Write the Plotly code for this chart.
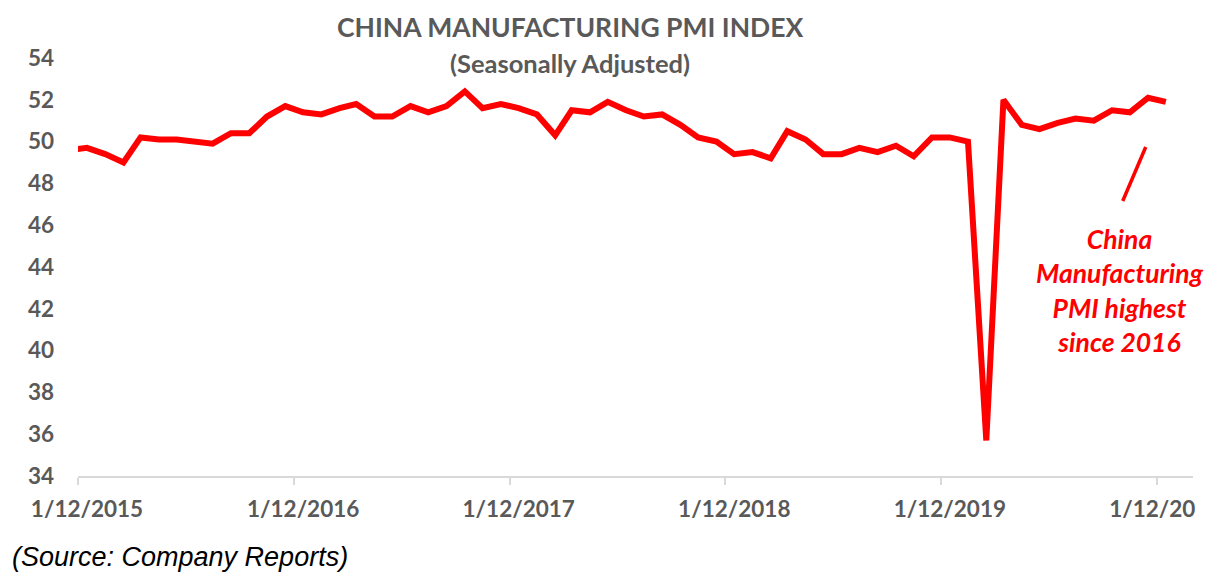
import plotly.graph_objects as go

# monthly China manufacturing PMI, Nov 2015 .. Dec 2020 (Nov 2015 is clipped by the axis start)
months = [
    "2015-11", "2015-12",
    "2016-01", "2016-02", "2016-03", "2016-04", "2016-05", "2016-06",
    "2016-07", "2016-08", "2016-09", "2016-10", "2016-11", "2016-12",
    "2017-01", "2017-02", "2017-03", "2017-04", "2017-05", "2017-06",
    "2017-07", "2017-08", "2017-09", "2017-10", "2017-11", "2017-12",
    "2018-01", "2018-02", "2018-03", "2018-04", "2018-05", "2018-06",
    "2018-07", "2018-08", "2018-09", "2018-10", "2018-11", "2018-12",
    "2019-01", "2019-02", "2019-03", "2019-04", "2019-05", "2019-06",
    "2019-07", "2019-08", "2019-09", "2019-10", "2019-11", "2019-12",
    "2020-01", "2020-02", "2020-03", "2020-04", "2020-05", "2020-06",
    "2020-07", "2020-08", "2020-09", "2020-10", "2020-11", "2020-12",
]
pmi = [
    49.6, 49.7,
    49.4, 49.0, 50.2, 50.1, 50.1, 50.0, 49.9, 50.4, 50.4, 51.2, 51.7, 51.4,
    51.3, 51.6, 51.8, 51.2, 51.2, 51.7, 51.4, 51.7, 52.4, 51.6, 51.8, 51.6,
    51.3, 50.3, 51.5, 51.4, 51.9, 51.5, 51.2, 51.3, 50.8, 50.2, 50.0, 49.4,
    49.5, 49.2, 50.5, 50.1, 49.4, 49.4, 49.7, 49.5, 49.8, 49.3, 50.2, 50.2,
    50.0, 35.7, 52.0, 50.8, 50.6, 50.9, 51.1, 51.0, 51.5, 51.4, 52.1, 51.9,
]

tick_dates = ["2015-12-01", "2016-12-01", "2017-12-01", "2018-12-01", "2019-12-01", "2020-12-01"]
# last label is cut short in the original; the nbsp padding keeps it where the full date would start
tick_labels = ["1/12/2015", "1/12/2016", "1/12/2017", "1/12/2018", "1/12/2019",
               "1/12/20" + "\u00a0" * 5]

# points sit in the middle of each month (Excel "between tick marks")
x_dates = [m + "-16" for m in months]

grey = "#595959"
red = "#FF0000"

fig = go.Figure()
fig.add_trace(go.Scatter(
    x=x_dates, y=pmi, mode="lines",
    line=dict(color=red, width=6),
    hoverinfo="x+y", showlegend=False,
))

# page body has an 8px margin, so the figure is a bit smaller than the window
fig.update_layout(
    width=1216, height=578,
    margin=dict(l=70, r=31, t=50, b=110),
    paper_bgcolor="white", plot_bgcolor="white",
    font=dict(family="Lato", color=grey),
    xaxis=dict(
        type="date",
        range=["2015-12-01", "2021-01-31"],
        tickvals=tick_dates, ticktext=tick_labels,
        showgrid=False, zeroline=False,
        showline=True, linecolor="#d9d9d9", linewidth=1.5,
        ticks="outside", ticklen=7, tickcolor="#d9d9d9", tickwidth=1.5,
        tickfont=dict(family="Lato", size=22.5, color=grey, weight="bold"),
        ticklabelstandoff=5,
        ticklabelshift=9,
        automargin=False,
    ),
    yaxis=dict(
        range=[34, 54], dtick=2,
        showgrid=False, zeroline=False, showline=False,
        tickfont=dict(family="Lato", size=22.5, color=grey, weight="bold"),
        ticklabelstandoff=23,
        automargin=False,
    ),
)

fig.add_annotation(
    text="CHINA MANUFACTURING PMI INDEX", xref="paper", yref="paper",
    x=0.441, y=1.074, xanchor="center", yanchor="middle", showarrow=False,
    font=dict(family="Lato", size=26.5, color=grey, weight="bold"),
)
fig.add_annotation(
    text="(Seasonally Adjusted)", xref="paper", yref="paper",
    x=0.441, y=0.988, xanchor="center", yanchor="middle", showarrow=False,
    font=dict(family="Lato", size=25.5, color=grey, weight="bold"),
)

# red callout
fig.add_annotation(
    text="China<br>Manufacturing<br>PMI highest<br>since 2016",
    x="2020-09-29", y=42.88, xanchor="center", yanchor="middle", showarrow=False,
    align="center",
    font=dict(family="Lato", size=26.5, color=red, weight="bold", style="italic"),
)
fig.add_shape(
    type="line", x0="2020-11-12", y0=49.74, x1="2020-10-04", y1=47.16,
    line=dict(color=red, width=3.5),
)

fig.add_annotation(
    text="(Source: Company Reports)", xref="paper", yref="paper",
    x=-0.061, y=-0.194, xanchor="left", yanchor="middle", showarrow=False,
    font=dict(family="Liberation Sans", size=27, color="black", style="italic"),
)

fig.write_html("out.html")
